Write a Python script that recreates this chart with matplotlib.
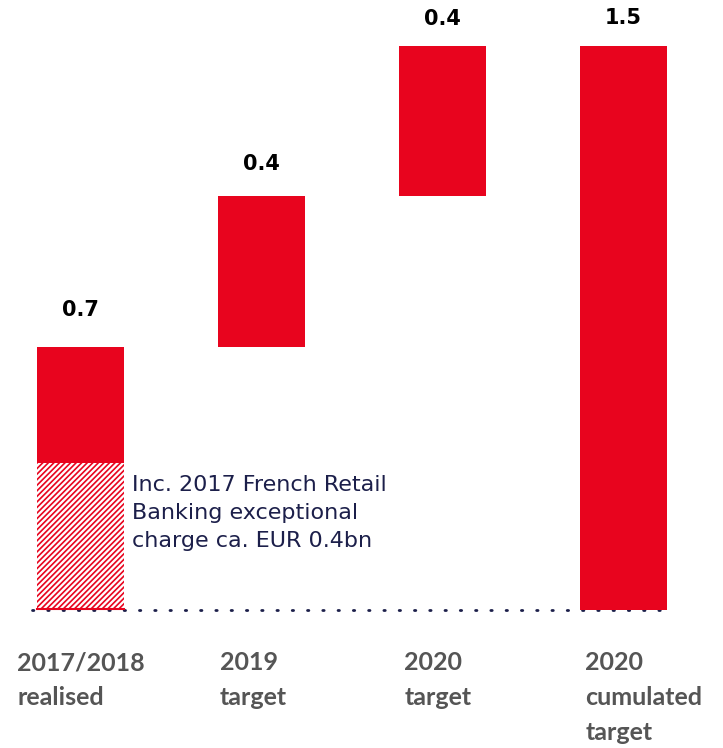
import matplotlib
matplotlib.use("Agg")
import matplotlib.pyplot as plt
import numpy as np

categories = ["2017/2018\nrealised", "2019\ntarget", "2020\ntarget", "2020\ncumulated\ntarget"]
values = [0.7, 0.4, 0.4, 1.5]
value_labels = ["0.7", "0.4", "0.4", "1.5"]
is_total = [False, False, False, True]
hatched_part = 0.39
note = "Inc. 2017 French Retail\nBanking exceptional\ncharge ca. EUR 0.4bn"

RED = "#E8041E"
NAVY = "#1C1F4A"
GRAY = "#555555"

plt.rcParams['hatch.linewidth'] = 1.2
plt.rcParams['hatch.color'] = RED

fig = plt.figure(figsize=(7.23, 7.48), dpi=100)
ax = fig.add_axes([0, 0, 1, 1])
ax.set_xlim(-0.445, 3.55)
ax.set_ylim(-0.367, 1.622)
ax.axis("off")

x = np.arange(len(categories))
width = 0.48
bottoms = []
run = 0.0
for v, tot in zip(values, is_total):
    if tot:
        bottoms.append(0.0)
    else:
        bottoms.append(run)
        run += v

# dotted baseline
ax.plot([x[0] - width / 2 - 0.03, x[-1] + width / 2], [0, 0], linestyle=(0, (0.5, 5.0)),
        color=NAVY, linewidth=2.0, dash_capstyle="round", zorder=1)

for i, (v, b) in enumerate(zip(values, bottoms)):
    if i == 0:
        ax.bar(x[i], hatched_part, width=width, bottom=b, facecolor="white",
               edgecolor=RED, hatch="//////", linewidth=0, zorder=2)
        ax.plot([x[i] - width / 2, x[i] + width / 2], [0.003, 0.003], color=RED, lw=1.5, zorder=3)
        ax.bar(x[i], v - hatched_part, width=width, bottom=b + hatched_part,
               color=RED, linewidth=0, zorder=2)
    else:
        ax.bar(x[i], v, width=width, bottom=b, color=RED, linewidth=0, zorder=2)

offsets = [0.072, 0.058, 0.045, 0.047]
for i, (v, b) in enumerate(zip(values, bottoms)):
    ax.text(x[i], b + v + offsets[i], value_labels[i], ha="center", va="bottom",
            fontsize=15, fontweight="bold", color="black", family="DejaVu Sans")

label_x = [x[0] - 0.35, x[1] - width / 2 + 0.01, x[2] - width / 2 + 0.03, x[3] - width / 2 + 0.03]
for lx, lab in zip(label_x, categories):
    ax.text(lx, -0.11, lab, ha="left", va="top", fontsize=18, fontweight="bold",
            color=GRAY, family="Lato", linespacing=1.62)

ax.text(x[0] + width / 2 + 0.045, 0.36, note, ha="left", va="top", fontsize=16,
        color=NAVY, family="DejaVu Sans", linespacing=1.5)

fig.savefig("out.png", dpi=100)
